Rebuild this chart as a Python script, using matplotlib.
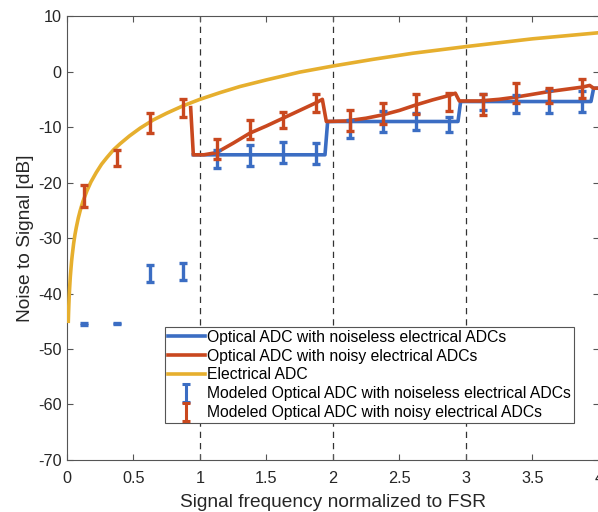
import matplotlib
matplotlib.use('Agg')
import numpy as np
from matplotlib import pyplot as plt
from matplotlib.path import Path
from matplotlib.lines import Line2D

plt.rcParams.update({
    'font.family': ['Liberation Sans', 'DejaVu Sans'],
    'font.size': 11.7,
    'axes.unicode_minus': False,
    'axes.edgecolor': '#555555',
    'axes.linewidth': 0.8,
    'xtick.color': '#555555',
    'ytick.color': '#555555',
    'xtick.labelcolor': '#262626',
    'ytick.labelcolor': '#262626',
    'xtick.direction': 'in',
    'ytick.direction': 'in',
})

# Electrical ADC (yellow curve)
x_elec = [0.01, 0.011, 0.012, 0.014, 0.016, 0.018, 0.02, 0.025, 0.03, 0.035,
          0.04, 0.05, 0.06, 0.07, 0.085, 0.1, 0.12, 0.15, 0.18, 0.22, 0.26,
          0.3, 0.35, 0.4, 0.47, 0.55, 0.65, 0.75, 0.87, 1.0, 1.15, 1.3, 1.5,
          1.75, 2.0, 2.3, 2.6, 3.0, 3.5, 4.0]
y_elec = [-45.0, -44.2, -43.4, -42.1, -40.9, -39.9, -39.0, -37.0, -35.5, -34.1,
          -33.0, -31.0, -29.4, -28.1, -26.4, -25.0, -23.4, -21.5, -19.9, -18.2,
          -16.7, -15.5, -14.1, -13.0, -11.6, -10.2, -8.7, -7.5, -6.2, -5.0,
          -3.8, -2.7, -1.5, -0.1, 1.0, 2.2, 3.3, 4.5, 5.9, 7.0]

# Optical ADC with noiseless electrical ADCs (blue steps)
x_blue = [0.95, 1.94, 1.96, 2.94, 2.96, 3.94, 3.96, 4.0]
y_blue = [-15.0, -15.0, -9.0, -9.0, -5.4, -5.4, -3.0, -3.0]

# Optical ADC with noisy electrical ADCs (red)
x_red = [0.93, 0.95, 1.03, 1.125, 1.25, 1.375, 1.5, 1.625, 1.75, 1.875, 1.92,
         1.95, 2.1, 2.25, 2.375, 2.5, 2.625, 2.75, 2.875, 2.92, 2.95, 3.1,
         3.25, 3.375, 3.5, 3.625, 3.75, 3.875, 3.93, 3.96, 4.0]
y_red = [-6.5, -15.0, -15.0, -14.6, -12.9, -11.1, -9.8, -8.4, -7.0, -5.6, -5.0,
         -9.0, -8.9, -8.4, -7.8, -7.0, -6.0, -5.1, -4.3, -3.9, -5.3, -5.3,
         -5.0, -4.6, -4.1, -3.6, -3.2, -2.8, -2.5, -3.0, -3.0]

# modeled points with error bars
x_mod = [0.125, 0.375, 0.625, 0.875, 1.125, 1.375, 1.625, 1.875,
         2.125, 2.375, 2.625, 2.875, 3.125, 3.375, 3.625, 3.875]
blue_mod = [-45.5, -45.4, -36.4, -36.0, -15.8, -15.1, -14.6, -14.8,
            -10.3, -9.0, -9.0, -9.5, -5.5, -5.9, -5.4, -5.4]
blue_err = [0.15, 0.15, 1.5, 1.5, 1.6, 1.9, 1.9, 1.9,
            1.6, 1.9, 1.5, 1.4, 1.5, 1.6, 2.0, 1.9]
red_mod = [-22.4, -15.6, -9.3, -6.6, -14.0, -10.5, -8.7, -5.7,
           -8.9, -7.6, -5.9, -5.5, -5.9, -3.9, -4.3, -3.1]
red_err = [2.0, 1.5, 1.8, 1.6, 1.8, 1.7, 1.5, 1.6,
           1.9, 1.9, 1.8, 1.6, 1.9, 1.8, 1.3, 1.7]

c_blue = '#3B6DC3'
c_red = '#C9481F'
c_yel = '#E6AF2E'

fig = plt.figure(figsize=(5.98, 5.12), dpi=100)
ax = fig.add_axes([0.112, 0.1016, 0.8896, 0.867])

for xv in [1, 2, 3]:
    ax.axvline(xv, color='#333333', linestyle=(0, (5, 4)), linewidth=0.9, zorder=1)

l1, = ax.plot(x_blue, y_blue, color=c_blue, linewidth=2.6, zorder=2)
l2, = ax.plot(x_red, y_red, color=c_red, linewidth=2.6, zorder=3)
l3, = ax.plot(x_elec, y_elec, color=c_yel, linewidth=2.6, zorder=4)

ax.errorbar(x_mod, blue_mod, yerr=blue_err, fmt='none', ecolor=c_blue,
            elinewidth=2.4, capsize=3, capthick=2.4, zorder=5)
ax.errorbar(x_mod, red_mod, yerr=red_err, fmt='none', ecolor=c_red,
            elinewidth=2.4, capsize=3, capthick=2.4, zorder=6)

# "I" shaped legend markers for the error bar series
ibar = Path([(-0.45, 1), (0.45, 1), (0, 1), (0, -1), (-0.45, -1), (0.45, -1)],
            [Path.MOVETO, Path.LINETO, Path.MOVETO, Path.LINETO, Path.MOVETO, Path.LINETO])
h4 = Line2D([], [], linestyle='none', marker=ibar, markersize=13,
            markeredgewidth=2.2, markeredgecolor=c_blue, markerfacecolor='none')
h5 = Line2D([], [], linestyle='none', marker=ibar, markersize=13,
            markeredgewidth=2.2, markeredgecolor=c_red, markerfacecolor='none')

ax.set_xlim(0, 4)
ax.set_ylim(-70, 10)
ax.set_xticks(np.arange(0, 4.01, 0.5))
ax.set_xticklabels(['0', '0.5', '1', '1.5', '2', '2.5', '3', '3.5', '4'])
ax.set_yticks(np.arange(-70, 11, 10))
ax.tick_params(top=True, right=True, length=4.5, width=0.8)
ax.tick_params(axis='x', pad=8)
ax.tick_params(axis='y', pad=4)

ax.set_xlabel('Signal frequency normalized to FSR', fontsize=13.8, color='#262626', labelpad=5.5)
ax.set_ylabel('Noise to Signal [dB]', fontsize=13.8, color='#262626', labelpad=3)

labels = ['Optical ADC with noiseless electrical ADCs',
          'Optical ADC with noisy electrical ADCs',
          'Electrical ADC',
          'Modeled Optical ADC with noiseless electrical ADCs',
          'Modeled Optical ADC with noisy electrical ADCs']
leg = ax.legend([l1, l2, l3, h4, h5], labels,
                loc='lower left', bbox_to_anchor=(0.184, 0.083), borderaxespad=0,
                fontsize=11.3, frameon=True, fancybox=False, framealpha=1,
                edgecolor='#555555', handlelength=2.35, handletextpad=0.15,
                labelspacing=0.24, borderpad=0.2)
leg.get_frame().set_linewidth(0.8)

fig.savefig('out.png', dpi=100)
